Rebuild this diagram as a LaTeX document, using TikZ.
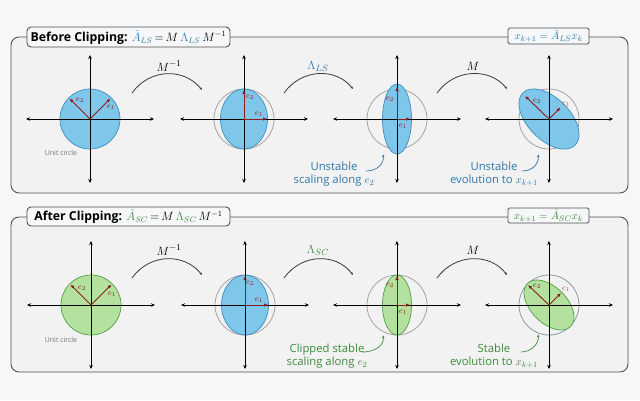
\documentclass[tikz,border=0pt]{standalone}
\usepackage[no-math]{fontspec}
\setmainfont{Open Sans}
\usepackage{amsmath}
\usetikzlibrary{arrows.meta}
\definecolor{bgc}{HTML}{F6F7F9}
\definecolor{panelc}{HTML}{F2F2F2}
\definecolor{panelline}{HTML}{505050}
\definecolor{bluefill}{HTML}{7EC6EA}
\definecolor{blueline}{HTML}{3E8EBF}
\definecolor{bluetext}{HTML}{2F78A8}
\definecolor{greenfill}{HTML}{B4E29E}
\definecolor{greenline}{HTML}{4E9F45}
\definecolor{greentext}{HTML}{3D8B3D}
\definecolor{redarr}{HTML}{8E1B1B}
\definecolor{circgray}{HTML}{A3A3A3}
\definecolor{circblue}{HTML}{8C9AA8}
\definecolor{curvegray}{HTML}{3A3A3A}
\newcommand{\titlemath}[1]{{\fontsize{11.5}{13}\selectfont\thickmuskip=3mu\medmuskip=2mu$#1$}}
\begin{document}
\begin{tikzpicture}[x=1pt,y=-1pt,
  panel/.style={draw=panelline,line width=0.9pt,fill=panelc,rounded corners=8pt},
  titlebox/.style={draw=panelline,line width=0.9pt,fill=bgc,rounded corners=4pt,inner sep=0pt,font=\fontsize{12.3}{14}\selectfont},
  eqbox/.style={draw=panelline,line width=0.9pt,fill=bgc,rounded corners=1.5pt,inner sep=0pt,font=\fontsize{11}{13}\selectfont},
  axisline/.style={black,line width=0.9pt,{Stealth[length=4pt,width=3.5pt]}-{Stealth[length=4pt,width=3.5pt]}},
  ucirc/.style={draw=circgray,line width=0.8pt},
  bshape/.style={fill=bluefill,draw=blueline,line width=0.7pt},
  gshape/.style={fill=greenfill,draw=greenline,line width=0.7pt},
  evec/.style={redarr,line width=0.9pt,-{Latex[length=4pt,width=3.5pt]}},
  elab/.style={text=redarr,font=\fontsize{8.5}{9}\selectfont,inner sep=0pt},
  curvearr/.style={curvegray,line width=0.8pt,-{Latex[length=2.5pt,width=2.5pt]}},
  oplab/.style={font=\fontsize{13}{15}\selectfont,inner sep=0pt},
  note/.style={align=center,font=\fontsize{11.3}{13}\selectfont,inner sep=0pt},
  unitlab/.style={text=black!55,font=\fontsize{7}{8}\selectfont,inner sep=0pt},
  ptr/.style={line width=0.7pt,-{Latex[length=3pt,width=2.5pt]}}
]
\fill[bgc] (0,0) rectangle (640,400);
\useasboundingbox (0,0) rectangle (640,400);

% ---------- panels ----------
\draw[panel] (11,37) rectangle (628,193);
\draw[panel] (11,217) rectangle (628,372);
\node[titlebox,minimum width=203pt,minimum height=20pt] (t1) at (128.5,37)
  {\textbf{Before Clipping:} \titlemath{\color{bluetext}\hat{A}_{LS}\color{black}=M\,\color{bluetext}\Lambda_{LS}\color{black}\,M^{-1}}};
\node[eqbox,minimum width=81pt,minimum height=16pt,text=bluetext] (q1) at (548.5,36)
  {$x_{k+1}=\hat{A}_{LS}x_k$};
\node[titlebox,minimum width=203pt,minimum height=19pt] (t2) at (128.5,216.5)
  {\textbf{After Clipping:} \titlemath{\color{greentext}\hat{A}_{SC}\color{black}=M\,\color{greentext}\Lambda_{SC}\color{black}\,M^{-1}}};
\node[eqbox,minimum width=81pt,minimum height=15pt,text=greentext] (q2) at (548.5,215.5)
  {$x_{k+1}=\hat{A}_{SC}x_k$};

% ---------- centres ----------
\coordinate (a1) at (90,119);  \coordinate (a2) at (244,119);
\coordinate (a3) at (397,119); \coordinate (a4) at (549,119);
\coordinate (b1) at (91,305);  \coordinate (b2) at (245,305);
\coordinate (b3) at (397,305); \coordinate (b4) at (549,305);

% ---------- top row shapes ----------
\draw[bshape] (a1) circle[radius=30];
\draw[ucirc] (a2) circle[radius=30];
\draw[bshape] (a2) ellipse[x radius=23.5,y radius=30];
\draw[ucirc] (a3) circle[radius=30];
\draw[bshape] (a3) ellipse[x radius=14.5,y radius=35];
\draw[ucirc] (a4) circle[radius=30];
\draw[bshape,rotate around={45:(a4)}] (a4) ellipse[x radius=21,y radius=37];

% ---------- bottom row shapes ----------
\draw[gshape] (b1) circle[radius=30];
\draw[ucirc] (b2) circle[radius=30];
\draw[bshape] (b2) ellipse[x radius=23.5,y radius=30];
\draw[ucirc] (b3) circle[radius=30];
\draw[gshape] (b3) ellipse[x radius=14.5,y radius=30];
\draw[ucirc,draw=circblue] (b4) circle[radius=30];
\draw[gshape,rotate around={45:(b4)}] (b4) ellipse[x radius=18,y radius=30.5];

% ---------- axes ----------
\foreach \c in {a1,a2,a3,a4,b1,b2,b3,b4}{
  \draw[axisline] ([xshift=-64pt]\c) -- ([xshift=64pt]\c);
  \draw[axisline] ([yshift=64pt]\c) -- ([yshift=-64pt]\c);
}

% ---------- eigenvectors ----------
\foreach \c in {a1,b1}{
  \draw[evec] (\c) -- ++(20.5,-20.5);
  \draw[evec] (\c) -- ++(-20.5,-20.5);
}
\foreach \c in {a2,b2}{
  \draw[evec] (\c) -- ++(23,0);
  \draw[evec] (\c) -- ++(0,-29);
}
\draw[evec] (a3) -- ++(13,0);
\draw[evec] (a3) -- ++(0,-32);
\draw[evec] (b3) -- ++(13,0);
\draw[evec] (b3) -- ++(0,-29);
\draw[evec] (a4) -- ++(11.5,-11.5);
\draw[evec] (a4) -- ++(-24,-23);
\draw[evec] (b4) -- ++(12,-12);
\draw[evec] (b4) -- ++(-21,-20);

% e labels
\node[elab] (la12) at (80,100) {$e_2$};   \node[elab] (la11) at (111,107) {$e_1$};
\node[elab] (la22) at (250,97) {$e_2$};   \node[elab] (la21) at (259,114) {$e_1$};
\node[elab] (la32) at (390,99) {$e_2$};   \node[elab] (la31) at (403,126) {$e_1$};
\node[elab] (la42) at (537,101) {$e_2$};  \node[elab,text=redarr!70!white] (la41) at (566,104) {$e_1$};
\node[elab] (lb12) at (82,288) {$e_2$};   \node[elab] (lb11) at (112,294) {$e_1$};
\node[elab] (lb22) at (250,283) {$e_2$};  \node[elab] (lb21) at (259,300) {$e_1$};
\node[elab] (lb32) at (390,285) {$e_2$};  \node[elab] (lb31) at (403,312) {$e_1$};
\node[elab] (lb42) at (537,286) {$e_2$};  \node[elab,text=redarr!70!white] (lb41) at (566,289) {$e_1$};

\node[unitlab] (u1) at (61,153) {Unit circle};
\node[unitlab] (u2) at (61,340) {Unit circle};

% ---------- operator arcs ----------
\coordinate (s1) at (132,93);  \coordinate (e1) at (202,90);
\coordinate (s2) at (284,93);  \coordinate (e2) at (353,89);
\coordinate (s3) at (437,93);  \coordinate (e3) at (507,89);
\coordinate (s4) at (132,278); \coordinate (e4) at (202,275);
\coordinate (s5) at (284,278); \coordinate (e5) at (353,275);
\coordinate (s6) at (437,278); \coordinate (e6) at (507,275);
\draw[curvearr] (s1) .. controls (150,68) and (184,68) .. (e1);
\draw[curvearr] (s2) .. controls (302,68) and (336,68) .. (e2);
\draw[curvearr] (s3) .. controls (455,68) and (490,68) .. (e3);
\draw[curvearr] (s4) .. controls (150,253) and (184,253) .. (e4);
\draw[curvearr] (s5) .. controls (302,253) and (336,253) .. (e5);
\draw[curvearr] (s6) .. controls (455,253) and (490,253) .. (e6);
\node[oplab] (m1) at (169,66) {$M^{-1}$};
\node[oplab,text=bluetext] (m2) at (318,66) {$\Lambda_{LS}$};
\node[oplab] (m3) at (473,66) {$M$};
\node[oplab] (m4) at (169,250) {$M^{-1}$};
\node[oplab,text=greentext] (m5) at (318,250) {$\Lambda_{SC}$};
\node[oplab] (m6) at (473,250) {$M$};

% ---------- notes ----------
\node[note,text=bluetext] (n1) at (334,174) {Unstable\\scaling along $e_2$};
\node[note,text=bluetext] (n2) at (494,174) {Unstable\\evolution to $x_{k+1}$};
\node[note,text=greentext] (n3) at (327,356) {Clipped stable\\scaling along $e_2$};
\node[note,text=greentext] (n4) at (494,356) {Stable\\evolution to $x_{k+1}$};
\coordinate (p1s) at (366,171); \coordinate (p1e) at (383,154);
\coordinate (p2s) at (522,171); \coordinate (p2e) at (538,154);
\coordinate (p3s) at (362,352); \coordinate (p3e) at (383,335);
\coordinate (p4s) at (521,352); \coordinate (p4e) at (538,334);
\draw[ptr,bluetext] (p1s) .. controls (378,171) and (384,163) .. (p1e);
\draw[ptr,bluetext] (p2s) .. controls (533,171) and (539,163) .. (p2e);
\draw[ptr,greentext] (p3s) .. controls (377,352) and (384,344) .. (p3e);
\draw[ptr,greentext] (p4s) .. controls (532,352) and (539,343) .. (p4e);
\end{tikzpicture}
\end{document}
